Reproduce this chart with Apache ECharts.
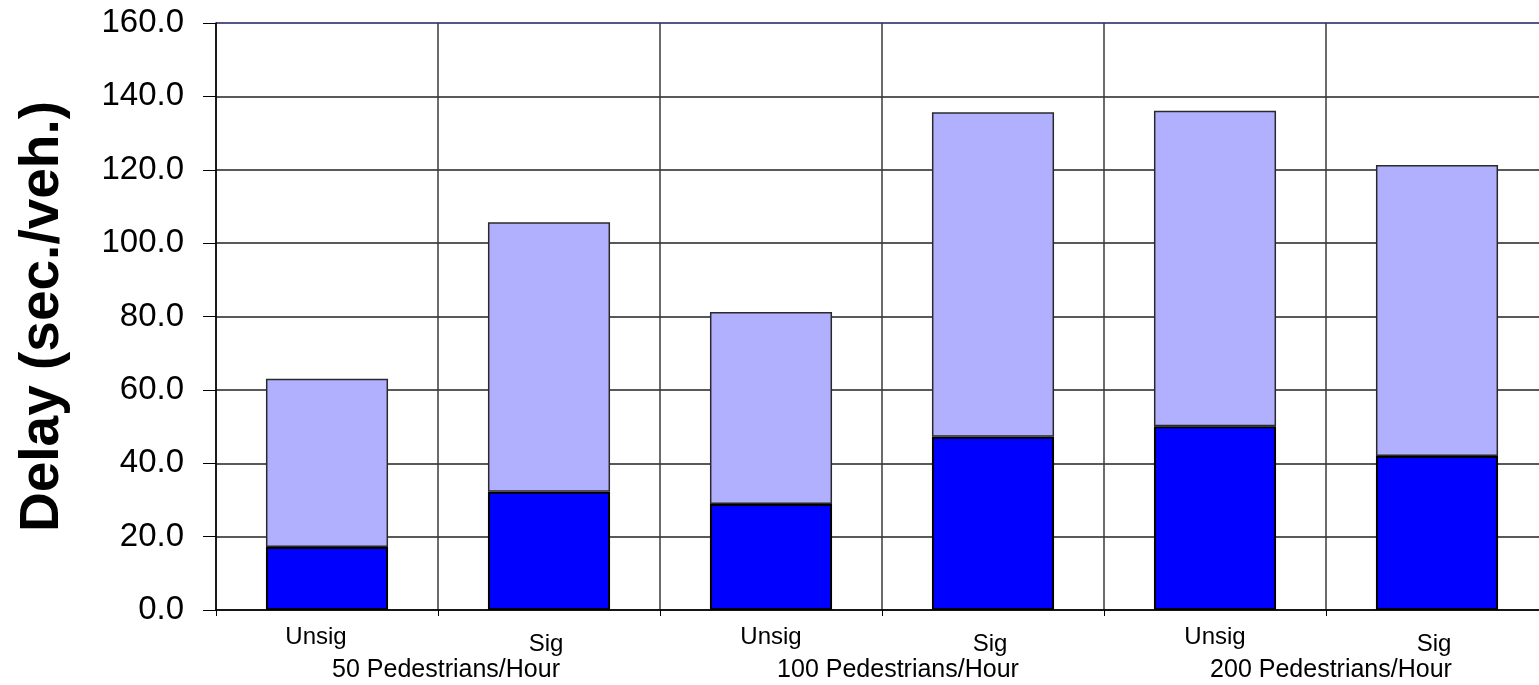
<!DOCTYPE html>
<html>
<head>
<meta charset="utf-8">
<script src="https://cdn.jsdelivr.net/npm/echarts@6/dist/echarts.min.js"></script>
<style>
  html, body { margin: 0; padding: 0; background: #ffffff; }
  #chart { width: 1539px; height: 685px; }
</style>
</head>
<body>
<div id="chart"></div>
<script>
// Intersection control type for each scenario
const categories = ['Unsig', 'Sig', 'Unsig', 'Sig', 'Unsig', 'Sig'];
// Pedestrian volume groups (each spans two scenarios)
const groups = ['50 Pedestrians/Hour', '100 Pedestrians/Hour', '200 Pedestrians/Hour'];
// Lower stacked segment of delay (sec./veh.)
const lowerDelay = [17.2, 32.2, 28.9, 47.2, 50.1, 42.0];
// Upper stacked segment of delay (sec./veh.)
const upperDelay = [45.8, 73.5, 52.3, 88.5, 86.0, 79.3];
// Delay axis range and step
const yMin = 0, yMax = 160, yStep = 20;

const FONT = '"Liberation Sans", Arial, sans-serif';
const chart = echarts.init(document.getElementById('chart'));

chart.setOption({
  backgroundColor: '#ffffff',
  animation: false,
  grid: {
    left: 216, top: 23, bottom: 75, width: 1332,
    containLabel: false,
    outerBoundsMode: 'none'
  },
  xAxis: [
    {
      type: 'category',
      data: categories,
      position: 'bottom',
      boundaryGap: true,
      axisLine: { show: true, lineStyle: { color: '#000', width: 1.5 } },
      axisTick: { show: true, length: 6, interval: 0, lineStyle: { color: '#000', width: 1 } },
      splitLine: { show: true, interval: 0, lineStyle: { color: '#3a3a3a', width: 1.5 } },
      axisLabel: {
        interval: 0,
        margin: 15,
        formatter: function (v, i) {
          if (i === 0) return '{u0|' + v + '}';
          return v === 'Sig' ? '{s|' + v + '}' : '{u|' + v + '}';
        },
        rich: {
          u0: { fontFamily: FONT, fontSize: 24, color: '#000', padding: [0, 22, 0, 0] },
          u: { fontFamily: FONT, fontSize: 24, color: '#000' },
          s: { fontFamily: FONT, fontSize: 24, color: '#000', padding: [7, 6, 0, 0] }
        }
      }
    },
    {
      type: 'category',
      data: groups,
      position: 'bottom',
      boundaryGap: true,
      axisLine: { show: false },
      axisTick: { show: false },
      splitLine: { show: false },
      axisLabel: {
        interval: 0,
        margin: 48,
        formatter: function (v, i) { return '{g' + i + '|' + v + '}'; },
        rich: {
          g0: { fontFamily: FONT, fontSize: 25, color: '#000', padding: [0, 0, 0, 16] },
          g1: { fontFamily: FONT, fontSize: 25, color: '#000', padding: [0, 0, 0, 32] },
          g2: { fontFamily: FONT, fontSize: 25, color: '#000', padding: [0, 0, 0, 10] }
        }
      }
    }
  ],
  yAxis: {
    type: 'value',
    min: yMin,
    max: yMax,
    interval: yStep,
    name: 'Delay (sec./veh.)',
    nameLocation: 'middle',
    nameGap: 146,
    nameTextStyle: { fontFamily: FONT, fontSize: 55, fontWeight: 'bold', color: '#000' },
    axisLine: { show: true, lineStyle: { color: '#000', width: 1.5 } },
    axisTick: { show: true, length: 13, lineStyle: { color: '#000', width: 1 } },
    splitLine: {
      show: true,
      lineStyle: {
        color: ['#222', '#222', '#222', '#222', '#222', '#222', '#222', '#222', '#1c1c60'],
        width: 1.5
      }
    },
    axisLabel: {
      margin: 32,
      fontFamily: FONT,
      fontSize: 33,
      color: '#000',
      formatter: function (v) { return v.toFixed(1); }
    }
  },
  series: [
    {
      type: 'bar',
      stack: 'delay',
      data: lowerDelay,
      barWidth: '55%',
      itemStyle: { color: '#0000ff', borderColor: '#000', borderWidth: 2 }
    },
    {
      type: 'bar',
      stack: 'delay',
      data: upperDelay,
      barWidth: '55%',
      itemStyle: { color: '#b0b0ff', borderColor: '#2a2a2a', borderWidth: 1.5 }
    }
  ]
});
</script>
</body>
</html>
